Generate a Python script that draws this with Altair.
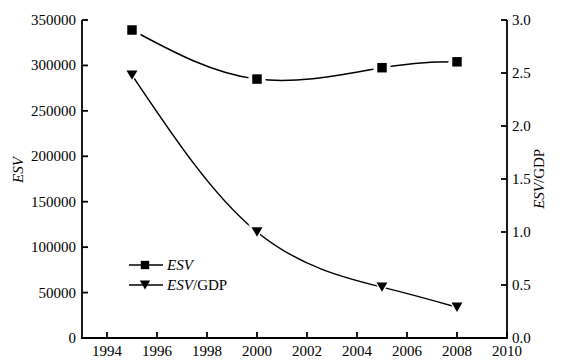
import altair as alt
import pandas as pd

# ---- data ----
years = [1995, 2000, 2005, 2008]
esv = [339000, 285000, 297500, 304000]
esv_gdp = [2.48, 1.00, 0.48, 0.29]

x_ticks = list(range(1994, 2011, 2))
left_ticks = list(range(0, 350001, 50000))
right_ticks = [0.0, 0.5, 1.0, 1.5, 2.0, 2.5, 3.0]

W, H = 425, 318
FONT = "Liberation Serif"
FS = 15
AXW = 1.8

df = pd.DataFrame({"year": years, "esv": esv, "ratio": esv_gdp})
dxt = pd.DataFrame({"v": x_ticks})
dlt = pd.DataFrame({"v": left_ticks})
drt = pd.DataFrame({"v": right_ticks})
one = pd.DataFrame({"a": [0]})

xs = alt.Scale(domain=[1993, 2010], nice=False, zero=False)
yl = alt.Scale(domain=[0, 350000], nice=False)
yr = alt.Scale(domain=[0, 3], nice=False)

base = alt.Chart(df)
Xn = alt.X("year:Q", scale=xs, axis=None)
YL = alt.Y("esv:Q", scale=yl, axis=None)
YR = alt.Y("ratio:Q", scale=yr, axis=None)

# ---- series ----
esv_line = base.mark_line(interpolate="natural", color="black", strokeWidth=1.5).encode(x=Xn, y=YL)
esv_halo = base.mark_point(shape="square", filled=True, color="white", size=290, opacity=1).encode(x=Xn, y=YL)
esv_pts = base.mark_point(shape="square", filled=True, color="black", size=90, opacity=1).encode(x=Xn, y=YL)

ratio_line = base.mark_line(interpolate="natural", color="black", strokeWidth=1.5).encode(x=Xn, y=YR)
ratio_halo = base.mark_point(shape="triangle-down", filled=True, color="white", size=300, opacity=1).encode(x=Xn, y=YR)
ratio_pts = base.mark_point(shape="triangle-down", filled=True, color="black", size=120, opacity=1).encode(x=Xn, y=YR)

# ---- axes (drawn with the chart's scales) ----
left_dom = alt.Chart(one).mark_rule(color="black", strokeWidth=AXW).encode(
    x=alt.value(0), y=alt.value(0), y2=alt.value(H))
right_dom = alt.Chart(one).mark_rule(color="black", strokeWidth=AXW).encode(
    x=alt.value(W), y=alt.value(0), y2=alt.value(H))
bottom_dom = alt.Chart(one).mark_rule(color="black", strokeWidth=AXW).encode(
    x=alt.value(-0.9), x2=alt.value(W + 0.9), y=alt.value(H))

left_tick_rules = alt.Chart(dlt).mark_rule(color="black", strokeWidth=AXW).encode(
    y=alt.Y("v:Q", scale=yl, axis=None), x=alt.value(0), x2=alt.value(6))
bottom_tick_rules = alt.Chart(dxt).mark_rule(color="black", strokeWidth=AXW).encode(
    x=alt.X("v:Q", scale=xs, axis=None), y=alt.value(H), y2=alt.value(H - 6))
right_tick_rules = alt.Chart(drt).mark_rule(color="black", strokeWidth=AXW).encode(
    y=alt.Y("v:Q", scale=yr, axis=None), x=alt.value(W - 6), x2=alt.value(W))

left_labels = alt.Chart(dlt).mark_text(font=FONT, fontSize=FS, color="black", align="right",
                                       baseline="middle").encode(
    y=alt.Y("v:Q", scale=yl, axis=None), x=alt.value(-6), text=alt.Text("v:Q", format="d"))
right_labels = alt.Chart(drt).mark_text(font=FONT, fontSize=FS, color="black", align="left",
                                        baseline="middle").encode(
    y=alt.Y("v:Q", scale=yr, axis=None), x=alt.value(W + 5), text=alt.Text("v:Q", format=".1f"))
bottom_labels = alt.Chart(dxt).mark_text(font=FONT, fontSize=FS, color="black", align="center",
                                         baseline="middle").encode(
    x=alt.X("v:Q", scale=xs, axis=None), y=alt.value(H + 13), text=alt.Text("v:Q", format="d"))

# ---- legend (manual, to allow italic ESV) ----
leg_y1, leg_y2 = 245, 265
leg_line1 = alt.Chart(one).mark_rule(color="black", strokeWidth=1.5).encode(
    x=alt.value(47), x2=alt.value(81), y=alt.value(leg_y1))
leg_line2 = alt.Chart(one).mark_rule(color="black", strokeWidth=1.5).encode(
    x=alt.value(47), x2=alt.value(81), y=alt.value(leg_y2))
leg_sq = alt.Chart(one).mark_point(shape="square", filled=True, color="black", size=70, opacity=1).encode(
    x=alt.value(63), y=alt.value(leg_y1))
leg_tri = alt.Chart(one).mark_point(shape="triangle-down", filled=True, color="black", size=110, opacity=1).encode(
    x=alt.value(63), y=alt.value(leg_y2))
leg_t1 = alt.Chart(one).mark_text(text="ESV", font=FONT, fontSize=FS, fontStyle="italic",
                                  align="left", baseline="middle", color="black").encode(
    x=alt.value(85), y=alt.value(leg_y1))
leg_t2a = alt.Chart(one).mark_text(text="ESV", font=FONT, fontSize=FS, fontStyle="italic",
                                   align="left", baseline="middle", color="black").encode(
    x=alt.value(85), y=alt.value(leg_y2))
leg_t2b = alt.Chart(one).mark_text(text="/GDP", font=FONT, fontSize=FS,
                                   align="left", baseline="middle", color="black").encode(
    x=alt.value(111), y=alt.value(leg_y2))

# ---- axis titles ----
left_title = alt.Chart(one).mark_text(text="ESV", font=FONT, fontSize=FS, fontStyle="italic",
                                      angle=270, align="center", baseline="middle", color="black").encode(
    x=alt.value(-64), y=alt.value(150))
right_title_a = alt.Chart(one).mark_text(text="ESV", font=FONT, fontSize=FS, fontStyle="italic",
                                         angle=270, align="right", baseline="middle", color="black").encode(
    x=alt.value(W + 32), y=alt.value(163))
right_title_b = alt.Chart(one).mark_text(text="/GDP", font=FONT, fontSize=FS,
                                         angle=270, align="left", baseline="middle", color="black").encode(
    x=alt.value(W + 32), y=alt.value(163))

chart = alt.layer(
    esv_line, ratio_line, esv_halo, esv_pts, ratio_halo, ratio_pts,
    left_dom, right_dom, bottom_dom,
    left_tick_rules, bottom_tick_rules, right_tick_rules,
    left_labels, right_labels, bottom_labels,
    leg_line1, leg_line2, leg_sq, leg_tri, leg_t1, leg_t2a, leg_t2b,
    left_title, right_title_a, right_title_b,
).resolve_scale(y="independent").properties(
    width=W, height=H,
    background="white",
    autosize=alt.AutoSizeParams(type="none"),
    padding={"left": 74, "top": 12, "right": 52, "bottom": 21},
).configure_view(stroke=None)

chart.save("out.html", embed_options={"renderer": "svg", "actions": False})
